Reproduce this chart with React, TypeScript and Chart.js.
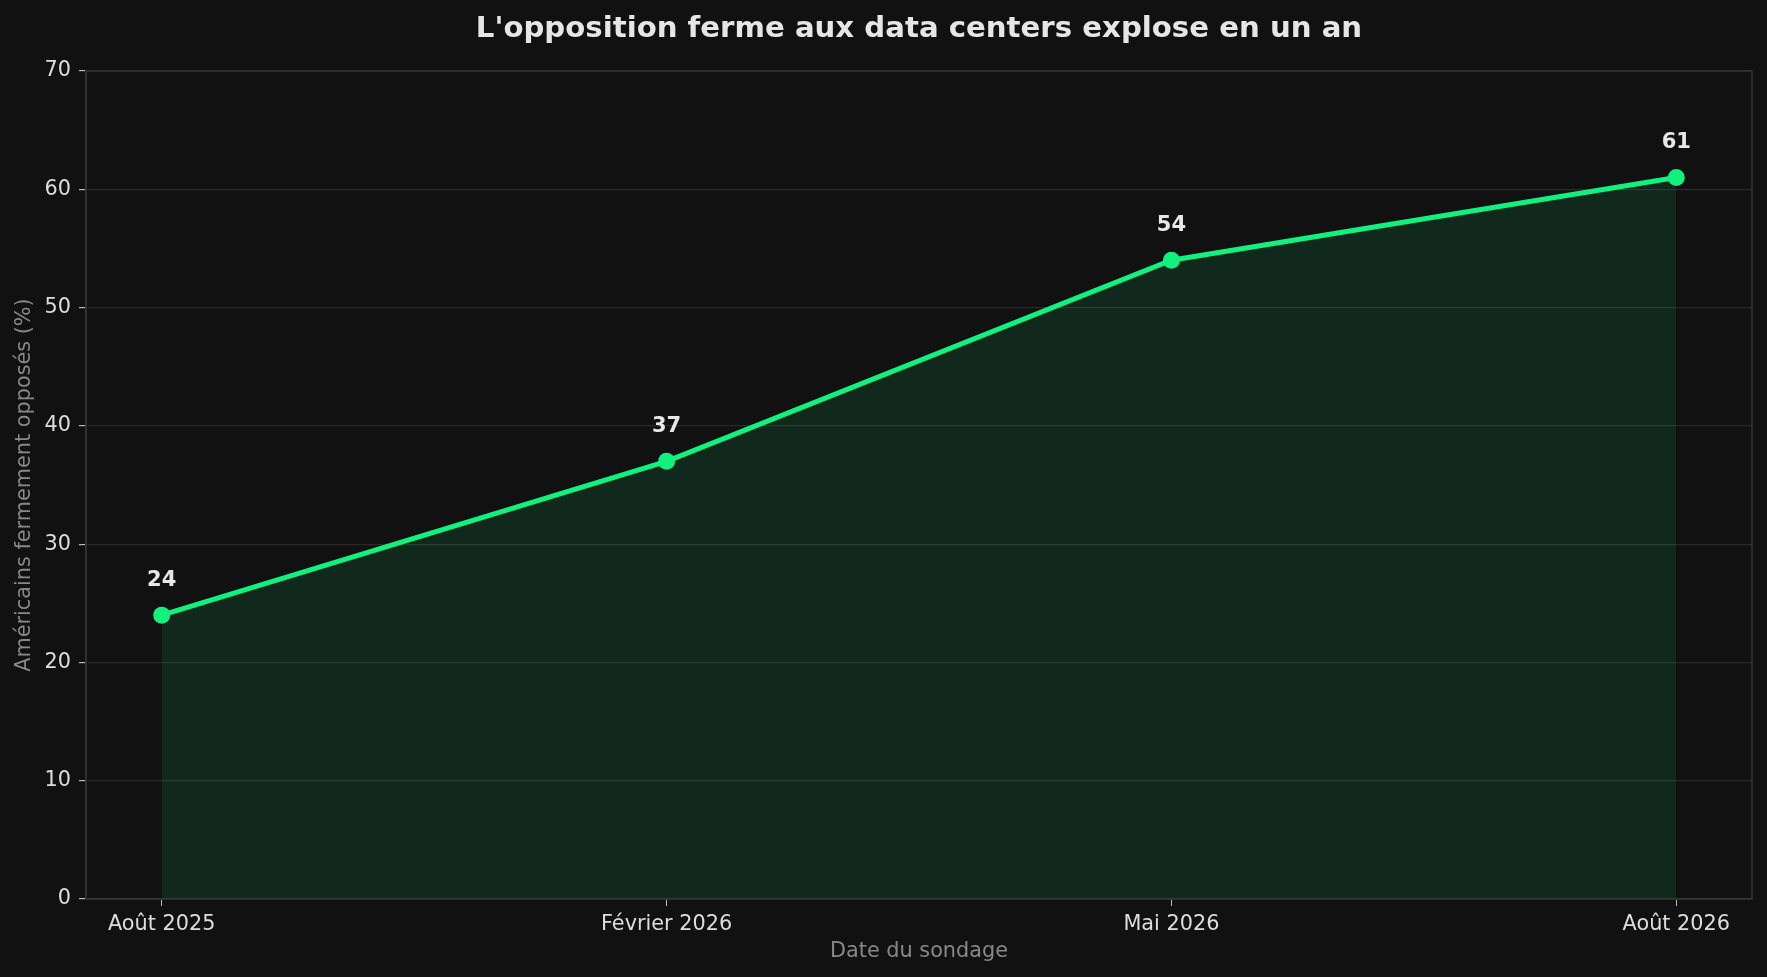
import React, { useEffect, useRef } from 'react';
import { Chart, registerables } from 'chart.js';

Chart.register(...registerables);

const categories = ['Août 2025', 'Février 2026', 'Mai 2026', 'Août 2026'];
const opposedValues = [24, 37, 54, 61];
const yTicks = [0, 10, 20, 30, 40, 50, 60, 70];

const FONT = "'DejaVu Sans', sans-serif";
const BG = '#111111';
const LINE = '#12f07e';

// spines + value labels, like the matplotlib original
const decorPlugin = {
  id: 'decor',
  beforeDraw(chart: Chart) {
    const { ctx, width, height } = chart;
    ctx.save();
    ctx.fillStyle = BG;
    ctx.fillRect(0, 0, width, height);
    ctx.restore();
  },
  afterDraw(chart: Chart) {
    const { ctx, chartArea } = chart;
    ctx.save();
    ctx.strokeStyle = '#333333';
    ctx.lineWidth = 1.5;
    ctx.strokeRect(chartArea.left, chartArea.top, chartArea.right - chartArea.left, chartArea.bottom - chartArea.top);

    const meta = chart.getDatasetMeta(0);
    ctx.fillStyle = '#e8e8e8';
    ctx.font = `bold 21px ${FONT}`;
    ctx.textAlign = 'center';
    ctx.textBaseline = 'middle';
    meta.data.forEach((pt: any, i: number) => {
      ctx.fillText(String(opposedValues[i]), pt.x, pt.y - 35);
    });
    ctx.restore();
  },
};

const OppositionChart: React.FC = () => {
  const canvasRef = useRef<HTMLCanvasElement | null>(null);

  useEffect(() => {
    if (!canvasRef.current) return;
    document.body.style.margin = '0';
    document.body.style.background = BG;

    const chart = new Chart(canvasRef.current, {
      type: 'line',
      data: {
        datasets: [
          {
            data: opposedValues.map((v, i) => ({ x: i, y: v })),
            borderColor: LINE,
            backgroundColor: 'rgba(18, 240, 126, 0.11)',
            borderWidth: 5,
            pointRadius: 8.5,
            pointHoverRadius: 8.5,
            pointBackgroundColor: LINE,
            pointBorderWidth: 0,
            fill: 'origin',
            tension: 0,
          },
        ],
      },
      options: {
        responsive: false,
        animation: false,
        devicePixelRatio: 1,
        layout: { padding: { left: 0, right: 15, top: 0, bottom: 0 } },
        plugins: {
          legend: { display: false },
          tooltip: { enabled: false },
          title: {
            display: true,
            fullSize: false,
            text: "L'opposition ferme aux data centers explose en un an",
            color: '#e6e6e6',
            font: { family: FONT, size: 29.2, weight: 'bold' },
            padding: { top: 12, bottom: 24 },
          },
        },
        scales: {
          x: {
            type: 'linear',
            min: -0.15,
            max: 3.15,
            afterBuildTicks: (scale: any) => {
              scale.ticks = categories.map((_, i) => ({ value: i }));
            },
            afterFit: (scale: any) => {
              scale.height = 78;
            },
            ticks: {
              color: '#dddddd',
              font: { family: FONT, size: 20.8 },
              padding: 6,
              callback: (v: any) => categories[v as number] ?? '',
            },
            grid: {
              drawOnChartArea: false,
              color: 'transparent',
              tickColor: '#bbbbbb',
              tickLength: 7,
            },
            border: { color: '#333333', width: 1.5 },
            title: {
              display: true,
              text: 'Date du sondage',
              color: '#888888',
              font: { family: FONT, size: 20.8 },
              padding: { top: 0, bottom: 13 },
            },
          },
          y: {
            min: 0,
            max: 70,
            afterBuildTicks: (scale: any) => {
              scale.ticks = yTicks.map(v => ({ value: v }));
            },
            afterFit: (scale: any) => {
              scale.width = 86;
            },
            ticks: {
              color: '#dddddd',
              font: { family: FONT, size: 20.8 },
              padding: 8,
            },
            grid: {
              color: '#2a2a2a',
              lineWidth: 1.2,
              tickColor: '#bbbbbb',
              tickLength: 7,
            },
            border: { color: '#333333', width: 1.5 },
            title: {
              display: true,
              text: 'Américains fermement opposés (%)',
              color: '#888888',
              font: { family: FONT, size: 20.8 },
              padding: { top: 12, bottom: 0 },
            },
          },
        },
      },
      plugins: [decorPlugin],
    });

    return () => {
      chart.destroy();
    };
  }, []);

  return <canvas ref={canvasRef} width={1767} height={977} style={{ display: 'block' }} />;
};

export default function App() {
  return <OppositionChart />;
}
